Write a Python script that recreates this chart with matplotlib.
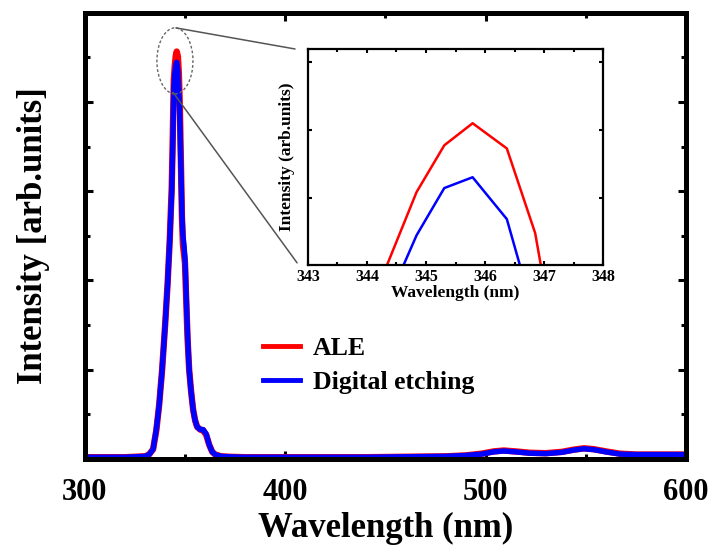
import numpy as np
import matplotlib
matplotlib.use('Agg')
import matplotlib.pyplot as plt
from matplotlib.patches import Ellipse, ConnectionPatch
from matplotlib.ticker import MultipleLocator, FixedLocator, NullFormatter

plt.rcParams['font.family'] = ['Liberation Serif', 'DejaVu Serif']
plt.rcParams['font.weight'] = 'bold'

# PL spectra (wavelength in nm, intensity in arb. units)
wavelength = [300, 310, 320, 325, 330, 332, 334, 335.6, 337, 338.5, 340, 341.2,
              342.3, 343.3, 343.8, 344.33, 344.84, 345.31, 345.79, 346.37, 346.85,
              347.35, 347.9, 348.4, 348.9, 349.4, 349.9, 350.5, 351.2, 352, 353,
              354, 355, 356, 357.5, 359, 360.5, 362, 363.5, 365, 368, 372, 380,
              400, 420, 440, 460, 480, 490, 498, 504, 509, 515, 522, 530, 538,
              544, 549, 554, 560, 567, 575, 585, 600]
ale = [0.02, 0.02, 0.02, 0.025, 0.03, 0.05, 0.11, 0.32, 0.6, 1.0, 1.5, 1.95,
       2.45, 3.05, 3.6, 4.247, 4.412, 4.516, 4.565, 4.509, 4.321,
       3.95, 3.3, 2.7, 2.4, 2.3, 2.2, 1.8, 1.35, 1.0, 0.75,
       0.55, 0.43, 0.36, 0.33, 0.32, 0.27, 0.16, 0.08, 0.05, 0.03, 0.025, 0.02,
       0.02, 0.02, 0.02, 0.025, 0.03, 0.04, 0.06, 0.085, 0.095, 0.085, 0.07, 0.065, 0.08,
       0.105, 0.12, 0.11, 0.085, 0.06, 0.05, 0.05, 0.05]
digital = [0.02, 0.02, 0.02, 0.025, 0.03, 0.05, 0.11, 0.33, 0.6, 1.0, 1.5, 1.95,
           2.45, 3.0, 3.5, 4.163, 4.316, 4.421, 4.445, 4.352, 4.13,
           3.8, 3.25, 2.75, 2.5, 2.4, 2.25, 1.85, 1.38, 1.0, 0.75,
           0.55, 0.43, 0.36, 0.33, 0.33, 0.28, 0.16, 0.08, 0.05, 0.03, 0.025, 0.02,
           0.02, 0.02, 0.02, 0.025, 0.03, 0.04, 0.055, 0.08, 0.09, 0.08, 0.065, 0.06, 0.075,
           0.1, 0.115, 0.105, 0.08, 0.055, 0.05, 0.05, 0.05]

xticks = [300, 400, 500, 600]

fig = plt.figure(figsize=(7.1, 5.48), dpi=100)
ax = fig.add_axes([0.1197, 0.1624, 0.8465, 0.8144])

ax.plot(wavelength, ale, color='#ff0000', lw=4.6, label='ALE', solid_joinstyle='round')
ax.plot(wavelength, digital, color='#0000ff', lw=3.9, label='Digital etching', solid_joinstyle='round')

ax.set_xlim(300, 600)
ax.set_ylim(0, 5)
ax.xaxis.set_major_locator(FixedLocator(xticks))
ax.xaxis.set_minor_locator(MultipleLocator(50))
ax.yaxis.set_major_locator(MultipleLocator(1))
ax.yaxis.set_minor_locator(MultipleLocator(0.5))
ax.yaxis.set_major_formatter(NullFormatter())
ax.tick_params(which='both', direction='in', top=True, right=True, width=2.2)
ax.tick_params(which='major', length=6, labelsize=22, pad=14)
ax.tick_params(which='minor', length=3.5)
for sp in ax.spines.values():
    sp.set_linewidth(3.6)
ax.set_xlabel('Wavelength (nm)', fontsize=25, fontweight='bold', labelpad=3)
ax.set_ylabel('Intensity [arb.units]', fontsize=25, fontweight='bold', labelpad=11)

leg = ax.legend(loc='upper left', bbox_to_anchor=(0.279, 0.297), frameon=False,
                fontsize=18.5, handlelength=1.45, handletextpad=0.5,
                labelspacing=0.45, borderaxespad=0)
for line in leg.get_lines():
    line.set_linewidth(3.5)

# zoomed view of the peak top
axin = fig.add_axes([0.4338, 0.5164, 0.4155, 0.3942])
axin.plot(wavelength, ale, color='#ff0000', lw=1.8)
axin.plot(wavelength, digital, color='#0000ff', lw=1.8)
axin.set_xlim(343, 348)
axin.set_ylim(4.25, 4.73)
axin.xaxis.set_major_locator(MultipleLocator(1))
axin.xaxis.set_minor_locator(MultipleLocator(0.5))
axin.yaxis.set_major_locator(FixedLocator([4.4, 4.55, 4.7]))
axin.yaxis.set_major_formatter(NullFormatter())
axin.tick_params(which='both', direction='in', top=True, right=True, width=1.5)
axin.tick_params(which='major', length=3, labelsize=11.5, pad=3)
axin.tick_params(which='minor', length=2.5)
for sp in axin.spines.values():
    sp.set_linewidth(1.6)
axin.set_xlabel('Wavelength (nm)', fontsize=12.5, fontweight='bold', labelpad=0)
axin.set_ylabel('Intensity (arb.units)', fontsize=12.5, fontweight='bold', labelpad=6)

# dashed ring around the peak and guide lines to the inset
cx, cy, ew, eh = 344.9, 4.46, 18, 0.74
ax.add_patch(Ellipse((cx, cy), ew, eh, fill=False, ls=(0, (2, 1.5)),
                     lw=1.0, edgecolor='#666666', zorder=5))
for (xa, ya), (xb, yb) in [((cx + 0.5, cy + eh / 2), (-0.044, 1.0)),
                           ((cx - 1.0, cy - eh / 2 + 0.02), (-0.037, 0.01))]:
    con = ConnectionPatch(xyA=(xa, ya), coordsA=ax.transData,
                          xyB=(xb, yb), coordsB=axin.transAxes,
                          color='#555555', lw=1.1)
    fig.add_artist(con)

fig.savefig('out.png', dpi=100)
